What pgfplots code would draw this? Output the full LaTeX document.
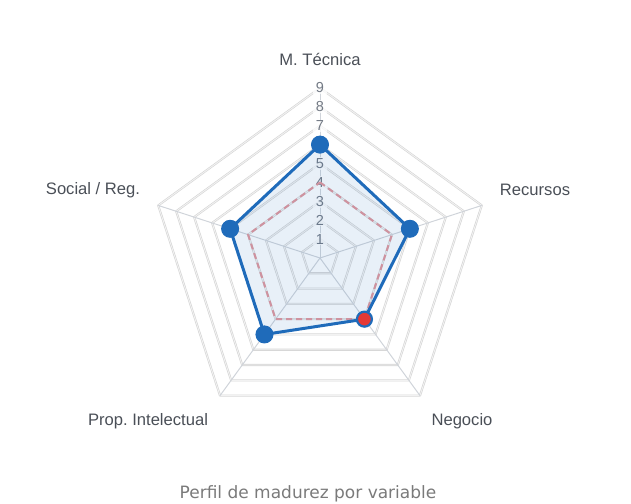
\documentclass[border=0pt]{standalone}
\usepackage{pgfplots}
\pgfplotsset{compat=1.18}
\usepackage{fontspec}
\setmainfont{Liberation Sans}
\newfontfamily\titlefont{DejaVu Sans}
\frenchspacing
\definecolor{blueline}{HTML}{1F6BBA}
\definecolor{redpt}{HTML}{E53935}
\definecolor{reddash}{HTML}{E3979C}
\definecolor{gridc}{HTML}{D4D4D4}
\definecolor{gridin}{HTML}{F2F2F2}
\definecolor{spokec}{HTML}{D0D4DA}
\definecolor{labelc}{HTML}{4A4F57}
\definecolor{tickc}{HTML}{737A85}
\definecolor{titlec}{HTML}{7A7A7A}
\begin{document}
\begin{tikzpicture}
\path[use as bounding box] (0bp,0bp) rectangle (631bp,504bp);
\begin{axis}[at={(320bp,246bp)}, anchor=origin,
  x=18.9bp, y=18.9bp, xmin=-10, xmax=10, ymin=-10, ymax=10,
  hide axis, clip=false]
% grid rings
\pgfplotsinvokeforeach{1,...,9}{
  \addplot[draw=gridc, line width=0.6bp, double=gridin, double distance=0.9bp, line join=round, data cs=polar, forget plot]
    coordinates {(90,#1) (18,#1) (-54,#1) (-126,#1) (162,#1) (90,#1)};
}
% spokes
\pgfplotsinvokeforeach{90,18,-54,-126,162}{
  \addplot[spokec, line width=1bp, data cs=polar, forget plot]
    coordinates {(#1,0) (#1,9)};
}
% tick labels
\pgfplotsinvokeforeach{1,2,3,4,5,6,7,8,9}{
  \node[fill=white, fill opacity=0.75, text opacity=1, text=tickc, inner xsep=2.5bp, inner ysep=1.2bp,
    font=\fontsize{14.5bp}{16bp}\selectfont] at (axis cs:0,#1) {#1};
}
% target (red dashed)
\addplot[reddash, line width=2bp, dash pattern=on 6bp off 4bp, data cs=polar]
  coordinates {(90,4) (18,4) (-54,4) (-126,4) (162,4) (90,4)};
% actual (blue)
\addplot[blueline, line width=3bp, line join=round, fill=blueline, fill opacity=0.1, draw opacity=1, data cs=polar]
  coordinates {(90,6) (18,5) (-54,4) (-126,5) (162,5) (90,6)};
\addplot[only marks, mark=*, mark size=8.5bp, mark options={fill=blueline, draw=blueline, line width=1bp}, data cs=polar]
  coordinates {(90,6) (18,5) (-126,5) (162,5)};
\addplot[only marks, mark=*, mark size=7.5bp, mark options={fill=redpt, draw=blueline, line width=2.2bp}, data cs=polar]
  coordinates {(-54,4)};
\end{axis}
\begin{scope}[every node/.style={text=labelc, font=\fontsize{16.6bp}{20bp}\selectfont, inner sep=0}]
\node at (320bp,445bp) {M. Técnica};
\node at (535bp,314bp) {Recursos};
\node at (93bp,314bp) {Social / Reg.};
\node at (148bp,83bp) {Prop. Intelectual};
\node at (462bp,83bp) {Negocio};
\end{scope}
\node[text=titlec, font=\titlefont\fontsize{17bp}{20bp}\selectfont, inner sep=0] at (308bp,10bp) {Perfil de madurez por variable};
\end{tikzpicture}
\end{document}
